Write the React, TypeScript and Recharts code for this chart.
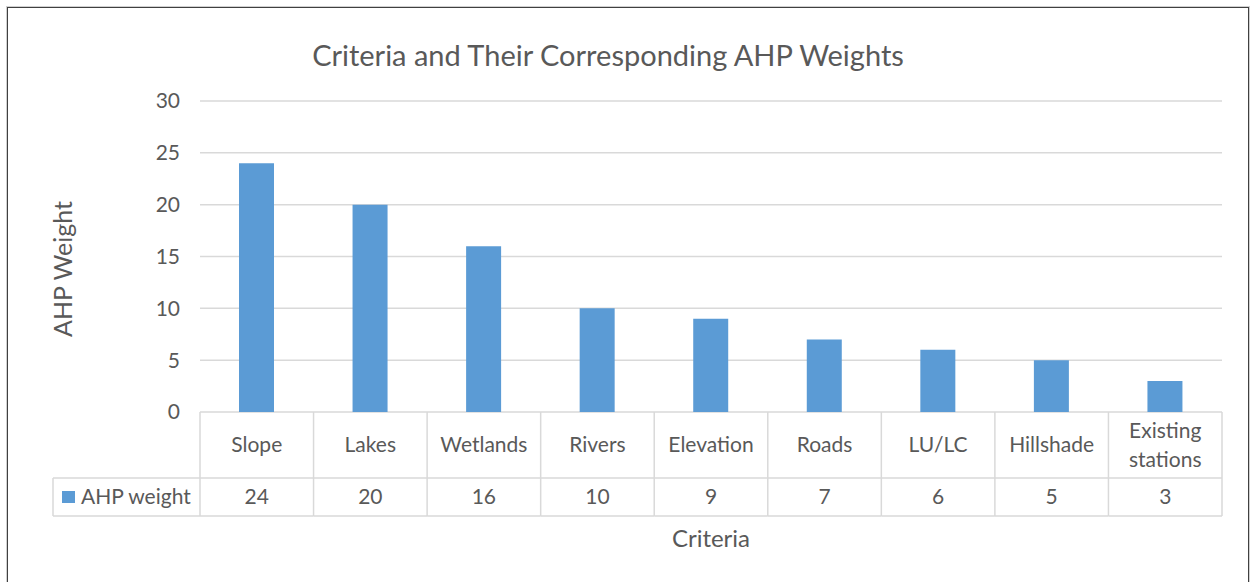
import React from 'react';
import { BarChart, Bar, XAxis, YAxis, CartesianGrid } from 'recharts';

const categories = ['Slope', 'Lakes', 'Wetlands', 'Rivers', 'Elevation', 'Roads', 'LU/LC', 'Hillshade', 'Existing stations'];
const weights = [24, 20, 16, 10, 9, 7, 6, 5, 3];
const yTicks = [0, 5, 10, 15, 20, 25, 30];
const seriesName = 'AHP weight';
const title = 'Criteria and Their Corresponding AHP Weights';
const yTitle = 'AHP Weight';
const xTitle = 'Criteria';

const data = categories.map((c, i) => ({ name: c, value: weights[i] }));

const W = 1250;
const H = 582;
const M = { top: 101, right: 28, left: 0, bottom: 0 };
const Y_W = 200;
const PLOT_W = W - M.right - Y_W;
const CELL_W = PLOT_W / categories.length;
const FONT = 'Lato, "Open Sans", sans-serif';
const TXT = '#595959';
const LINE = '#d9d9d9';
const BLUE = '#5b9bd5';
const ROW1 = 66;
const ROW2 = 38;
const FS = 21;

function TableTick(props: any) {
  const { x, y, payload } = props;
  const i = payload.index ?? props.index;
  const left = x - CELL_W / 2;
  const right = x + CELL_W / 2;
  const label: string = payload.value;
  const lines = label.includes(' ') ? label.split(' ') : [label];
  const midCat = y + ROW1 / 2;
  const lh = 29;
  return (
    <g>
      <line x1={right} y1={y} x2={right} y2={y + ROW1 + ROW2} stroke={LINE} strokeWidth={1.5} />
      {i === 0 && (
        <g>
          <line x1={left} y1={y} x2={left} y2={y + ROW1 + ROW2} stroke={LINE} strokeWidth={1.5} />
          <line x1={53} y1={y + ROW1} x2={left} y2={y + ROW1} stroke={LINE} strokeWidth={1.5} />
          <line x1={53} y1={y + ROW1 + ROW2} x2={left} y2={y + ROW1 + ROW2} stroke={LINE} strokeWidth={1.5} />
          <line x1={53} y1={y + ROW1} x2={53} y2={y + ROW1 + ROW2} stroke={LINE} strokeWidth={1.5} />
          <rect x={62} y={y + ROW1 + 13} width={13} height={12} fill={BLUE} />
          <text x={81} y={y + ROW1 + ROW2 / 2} dy="0.35em" fill={TXT} fontSize={FS} fontFamily={FONT}>{seriesName}</text>
        </g>
      )}
      <line x1={left} y1={y + ROW1} x2={right} y2={y + ROW1} stroke={LINE} strokeWidth={1.5} />
      <line x1={left} y1={y + ROW1 + ROW2} x2={right} y2={y + ROW1 + ROW2} stroke={LINE} strokeWidth={1.5} />
      {lines.map((ln, k) => (
        <text key={k} x={x} y={midCat + (k - (lines.length - 1) / 2) * lh} dy="0.35em" textAnchor="middle" fill={TXT} fontSize={FS} fontFamily={FONT}>{ln}</text>
      ))}
      <text x={x} y={y + ROW1 + ROW2 / 2} dy="0.35em" textAnchor="middle" fill={TXT} fontSize={FS} fontFamily={FONT}>{weights[i]}</text>
    </g>
  );
}

export default function App() {
  return (
    <div style={{ position: 'absolute', left: 0, top: 0, width: W, height: H, background: '#fff', overflow: 'hidden', fontFamily: FONT }}>
      <div style={{ position: 'absolute', left: 7, top: 7, width: 1240, height: 600, border: '1.5px solid #404040', boxShadow: '0 0 0 1px #d0d0d0' }} />
      <BarChart width={W} height={H} data={data} margin={M} barSize={35} style={{ position: 'absolute', left: 0, top: 0 }}>
        <CartesianGrid horizontal vertical={false} stroke={LINE} strokeWidth={1.5} />
        <XAxis dataKey="name" interval={0} axisLine={false} tickLine={false} tickSize={0} tickMargin={0} height={170} tick={<TableTick />} />
        <YAxis domain={[0, 30]} ticks={yTicks} width={Y_W} axisLine={false} tickLine={false} tickSize={0} tickMargin={20} tick={{ fill: TXT, fontSize: FS, fontFamily: FONT }} />
        <Bar dataKey="value" fill={BLUE} isAnimationActive={false} />
      </BarChart>
      <div style={{ position: 'absolute', left: 0, width: 1216, top: 36, textAlign: 'center', fontSize: 29, color: TXT, lineHeight: '38px', whiteSpace: 'nowrap' }}>{title}</div>
      <div style={{ position: 'absolute', left: 62, top: 269, transform: 'translate(-50%, -50%) rotate(-90deg)', fontSize: 25, color: TXT, whiteSpace: 'nowrap', lineHeight: '30px' }}>{yTitle}</div>
      <div style={{ position: 'absolute', left: 0, width: 1422, top: 524, textAlign: 'center', fontSize: 24, color: TXT, lineHeight: '28px' }}>{xTitle}</div>
    </div>
  );
}
